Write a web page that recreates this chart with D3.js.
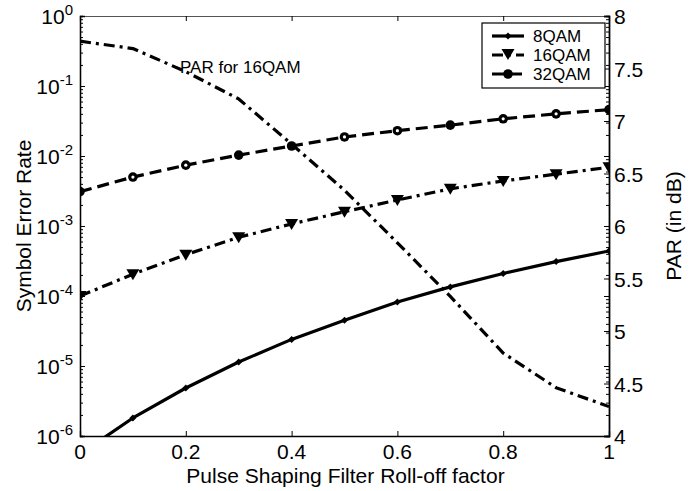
<!DOCTYPE html>
<html><head><meta charset="utf-8">
<script src="https://cdn.jsdelivr.net/npm/d3@7"></script>
<style>body{margin:0;background:#fff}svg{display:block;font-family:"Liberation Sans",Arial,Helvetica,sans-serif}</style>
</head><body><svg id="c" width="695" height="491"></svg>
<script>
const rolloff = [0,0.1,0.2,0.3,0.4,0.5,0.6,0.7,0.8,0.9,1.0];
const ser8  = [5.5e-7,1.81e-6,4.85e-6,1.14e-5,2.4e-5,4.5e-5,8.2e-5,1.35e-4,2.1e-4,3.1e-4,4.4e-4];
const ser16 = [1.0e-4,2.05e-4,3.9e-4,6.9e-4,1.07e-3,1.6e-3,2.35e-3,3.4e-3,4.4e-3,5.5e-3,6.9e-3];
const ser32 = [3.1e-3,5.0e-3,7.4e-3,1.03e-2,1.39e-2,1.87e-2,2.3e-2,2.76e-2,3.4e-2,4.0e-2,4.6e-2];
const par16 = [7.76,7.69,7.47,7.21,6.78,6.34,5.84,5.33,4.79,4.46,4.28];
const xTicks = [0,0.2,0.4,0.6,0.8,1];
const xTickLabels = ["0","0.2","0.4","0.6","0.8","1"];
const yTicks = [1,1e-1,1e-2,1e-3,1e-4,1e-5,1e-6];
const yTickExp = ["0","-1","-2","-3","-4","-5","-6"];
const rTicks = [4,4.5,5,5.5,6,6.5,7,7.5,8];
const rTickLabels = ["4","4.5","5","5.5","6","6.5","7","7.5","8"];
const legendNames = ["8QAM","16QAM","32QAM"];

const L=80,R=609,T=16,B=436;
const svg=d3.select("#c");
const x=d3.scaleLinear().domain([0,1]).range([L,R]);
const yL=d3.scaleLog().domain([1e-6,1]).range([B,T]);
const yR=d3.scaleLinear().domain([4,8]).range([B,T]);

svg.append("defs").append("clipPath").attr("id","clip").append("rect")
  .attr("x",L).attr("y",T).attr("width",R-L).attr("height",B-T);

const minor=[];
for(let e=-6;e<0;e++){for(let k=2;k<=9;k++)minor.push(k*Math.pow(10,e));}

const gx=svg.append("g").attr("transform",`translate(0,${B})`)
  .call(d3.axisBottom(x).tickValues(xTicks).tickSize(-5).tickFormat(""));
const gxt=svg.append("g").attr("transform",`translate(0,${T})`)
  .call(d3.axisTop(x).tickValues(xTicks).tickSize(-5).tickFormat(""));
const gy=svg.append("g").attr("transform",`translate(${L},0)`)
  .call(d3.axisLeft(yL).tickValues(yTicks).tickSize(-5).tickFormat(""));
const gym=svg.append("g").attr("transform",`translate(${L},0)`)
  .call(d3.axisLeft(yL).tickValues(minor).tickSize(-3).tickFormat(""));
const gyr=svg.append("g").attr("transform",`translate(${R},0)`)
  .call(d3.axisRight(yL).tickValues(yTicks).tickSize(-5).tickFormat(""));
const gyrm=svg.append("g").attr("transform",`translate(${R},0)`)
  .call(d3.axisRight(yL).tickValues(minor).tickSize(-3).tickFormat(""));
const gr=svg.append("g").attr("transform",`translate(${R},0)`)
  .call(d3.axisRight(yR).tickValues(rTicks).tickSize(-5).tickFormat(""));
[gx,gy,gr,gym,gyrm,gyr].forEach(g=>{g.select(".domain").attr("stroke","#000").attr("stroke-width",1.3);g.selectAll(".tick line").attr("stroke","#000");});
gxt.select(".domain").attr("stroke","#555").attr("stroke-width",1.2);
gxt.selectAll(".tick line").attr("stroke","#000");

svg.append("g").selectAll("text").data(xTicks).join("text")
  .attr("x",d=>x(d)).attr("y",B+23).attr("text-anchor","middle")
  .attr("font-size",21).text((d,i)=>xTickLabels[i]);
const yl=svg.append("g").selectAll("text").data(yTicks).join("text")
  .attr("x",L-7).attr("y",d=>yL(d)+8).attr("text-anchor","end").attr("font-size",21);
yl.append("tspan").text("10");
yl.append("tspan").attr("font-size",15).attr("dy",-9).text((d,i)=>yTickExp[i]);
svg.append("g").selectAll("text").data(rTicks).join("text")
  .attr("x",R+5).attr("y",d=>yR(d)+8).attr("text-anchor","start")
  .attr("font-size",21).text((d,i)=>rTickLabels[i]);

svg.append("text").attr("x",(L+R)/2+1).attr("y",483).attr("text-anchor","middle")
  .attr("font-size",21).text("Pulse Shaping Filter Roll-off factor");
svg.append("text").attr("transform",`translate(31,${(T+B)/2}) rotate(-90)`)
  .attr("text-anchor","middle").attr("font-size",21).text("Symbol Error Rate");
svg.append("text").attr("transform",`translate(681,${(T+B)/2}) rotate(-90)`)
  .attr("text-anchor","middle").attr("font-size",21).text("PAR (in dB)");

const plot=svg.append("g").attr("clip-path","url(#clip)");
const lineL=d3.line().x((d,i)=>x(rolloff[i])).y(d=>yL(d));
const lineR=d3.line().x((d,i)=>x(rolloff[i])).y(d=>yR(d));
const dashDot="11,5,3,5";
function drawLine(g,path,dash){
  g.append("path").attr("d",path).attr("fill","none").attr("stroke","#000")
   .attr("stroke-width",3.2).attr("stroke-dasharray",dash).attr("stroke-linejoin","round");
}
drawLine(plot,lineR(par16),dashDot);
drawLine(plot,lineL(ser32),"12,6");
drawLine(plot,lineL(ser16),dashDot);
drawLine(plot,lineL(ser8),null);

const openIdx32=[1,2,5,6,8,9];
function circleMark(g,cx,cy,open){
  g.append("circle").attr("cx",cx).attr("cy",cy).attr("r",4.8).attr("fill","#000");
  if(open) g.append("circle").attr("cx",cx).attr("cy",cy).attr("r",1.6).attr("fill","#fff");
}
function triMark(g,cx,cy){
  g.append("path").attr("d",`M${cx-6.5},${cy-5}L${cx+6.5},${cy-5}L${cx},${cy+6}Z`).attr("fill","#000");
}
function dotMark(g,cx,cy){
  g.append("path").attr("d",`M${cx-3.5},${cy}L${cx},${cy-3.5}L${cx+3.5},${cy}L${cx},${cy+3.5}Z`).attr("fill","#000");
}
const mk=plot.append("g");
ser32.forEach((v,i)=>circleMark(mk,x(rolloff[i]),yL(v),openIdx32.includes(i)));
ser16.forEach((v,i)=>triMark(mk,x(rolloff[i]),yL(v)));
ser8.forEach((v,i)=>dotMark(mk,x(rolloff[i]),yL(v)));

svg.append("text").attr("x",180).attr("y",73).attr("font-size",17).text("PAR for 16QAM");

const lg=svg.append("g");
lg.append("rect").attr("x",482).attr("y",23).attr("width",123).attr("height",65)
  .attr("fill","#fff").attr("stroke","#000").attr("stroke-width",1.2);
const rows=[36,55,74];
const dashes=[null,dashDot,"12,6"];
rows.forEach((yy,i)=>{
  lg.append("line").attr("x1",492).attr("x2",524).attr("y1",yy).attr("y2",yy)
    .attr("stroke","#000").attr("stroke-width",3.2).attr("stroke-dasharray",dashes[i]);
  if(i===0)dotMark(lg,508,yy); else if(i===1)triMark(lg,508,yy-1); else circleMark(lg,508,yy,false);
  lg.append("text").attr("x",533).attr("y",yy+6).attr("font-size",17).text(legendNames[i]);
});
</script></body></html>
